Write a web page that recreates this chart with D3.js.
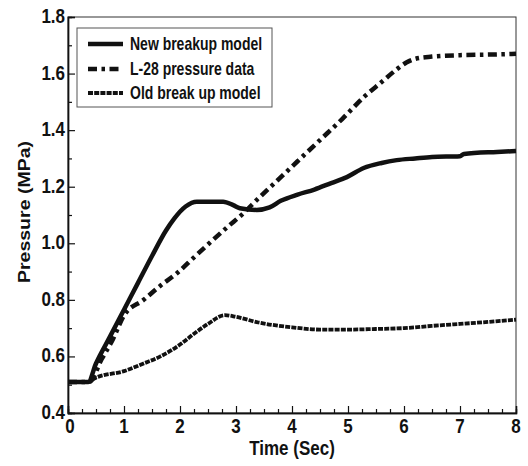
<!DOCTYPE html>
<html>
<head>
<meta charset="utf-8">
<script src="https://cdn.jsdelivr.net/npm/d3@7"></script>
<style>
  body { margin: 0; background: #fff; }
  text { font-family: "Liberation Sans", Arial, sans-serif; font-weight: bold; fill: #111; }
</style>
</head>
<body>
<div class="chart"></div>
<script>
// series data (time in sec, pressure in MPa)
var newTime = [0, 0.36, 0.5, 0.75, 1.0, 1.25, 1.5, 1.75, 1.9, 2.1, 2.3, 2.77, 2.95, 3.07, 3.37, 3.6, 3.8, 4.1, 4.4, 4.7, 4.98, 5.28, 5.6, 5.87, 6.2, 6.5, 7.0, 7.07, 7.66, 8];
var newPressure = [0.51, 0.51, 0.575, 0.67, 0.765, 0.86, 0.955, 1.045, 1.088, 1.13, 1.147, 1.147, 1.135, 1.124, 1.118, 1.127, 1.15, 1.172, 1.19, 1.213, 1.234, 1.266, 1.284, 1.294, 1.30, 1.305, 1.308, 1.316, 1.323, 1.326];

var l28Time = [0, 0.38, 0.6, 0.8, 1.0, 1.35, 1.65, 1.95, 2.25, 2.55, 2.85, 3.13, 3.4, 3.7, 4.1, 4.5, 4.9, 5.3, 5.6, 5.87, 6.05, 6.2, 6.5, 7.0, 7.5, 8];
var l28Pressure = [0.51, 0.51, 0.59, 0.66, 0.745, 0.80, 0.85, 0.895, 0.95, 1.005, 1.058, 1.106, 1.159, 1.215, 1.29, 1.365, 1.44, 1.52, 1.57, 1.615, 1.64, 1.652, 1.66, 1.665, 1.667, 1.67];

var oldTime = [0, 0.35, 0.5, 1.0, 1.35, 1.65, 2.0, 2.25, 2.5, 2.8, 3.0, 3.4, 4.0, 4.5, 5.0, 5.5, 6.0, 6.5, 7.0, 7.5, 8];
var oldPressure = [0.51, 0.51, 0.525, 0.548, 0.575, 0.60, 0.642, 0.68, 0.715, 0.746, 0.74, 0.72, 0.703, 0.695, 0.695, 0.697, 0.70, 0.708, 0.715, 0.722, 0.73];

var xTicks = [0, 1, 2, 3, 4, 5, 6, 7, 8];
var yTicks = [0.4, 0.6, 0.8, 1.0, 1.2, 1.4, 1.6, 1.8];
var legendNames = ["New breakup model", "L-28 pressure data", "Old break up model"];

var svgWidth = 528;
var svgHeight = 466;

var margin = { top: 17, right: 12, bottom: 53, left: 68 };
var width = svgWidth - margin.left - margin.right;
var height = svgHeight - margin.top - margin.bottom;

// figure looks stretched vertically, so text gets the same stretch
var stretch = 1.15;

var svg = d3.select(".chart")
  .append("svg")
  .attr("width", svgWidth)
  .attr("height", svgHeight);

var chartGroup = svg.append("g")
  .attr("transform", `translate(${margin.left}, ${margin.top})`);

var xScale = d3.scaleLinear().domain([0, 8]).range([0, width]);
var yScale = d3.scaleLinear().domain([0.4, 1.8]).range([height, 0]);

// frame
chartGroup.append("rect")
  .attr("x", 0).attr("y", 0)
  .attr("width", width).attr("height", height)
  .attr("fill", "none")
  .attr("stroke", "#333")
  .attr("stroke-width", 1);

// inward ticks, major + minor
var xMinor = d3.range(0, 8.001, 0.25).filter(d => Math.abs(d - Math.round(d)) > 0.01);
var yMinor = d3.range(0.5, 1.8, 0.2);

var bottomAxis = d3.axisBottom(xScale).tickValues(xTicks).tickSize(-7).tickFormat("");
var bottomMinor = d3.axisBottom(xScale).tickValues(xMinor).tickSize(-4).tickFormat("");
var leftAxis = d3.axisLeft(yScale).tickValues(yTicks).tickSize(-7).tickFormat("");
var leftMinor = d3.axisLeft(yScale).tickValues(yMinor).tickSize(-4).tickFormat("");

[[bottomAxis, true], [bottomMinor, true], [leftAxis, false], [leftMinor, false]].forEach(function(a) {
  var g = chartGroup.append("g").call(a[0]);
  if (a[1]) g.attr("transform", `translate(0, ${height})`);
  g.select(".domain").attr("stroke", "#111").attr("stroke-width", 1.4);
  g.selectAll(".tick line").attr("stroke", "#111").attr("stroke-width", 1.2);
});

// tick labels
chartGroup.selectAll(".xlab")
  .data(xTicks)
  .enter()
  .append("text")
  .attr("text-anchor", "middle")
  .attr("font-size", 17)
  .attr("transform", d => `translate(${xScale(d) + (d === 0 ? 2 : 0)}, ${height + 20}) scale(1, ${stretch})`)
  .text(d => d);

chartGroup.selectAll(".ylab")
  .data(yTicks)
  .enter()
  .append("text")
  .attr("text-anchor", "end")
  .attr("font-size", 17)
  .attr("transform", d => `translate(-3, ${yScale(d) + 6}) scale(1, ${stretch})`)
  .text(d => d.toFixed(1));

// lines
var line = d3.line()
  .curve(d3.curveMonotoneX)
  .x(d => xScale(d[0]))
  .y(d => yScale(d[1]));

var styles = [
  { w: 4.5, dash: null },
  { w: 4.5, dash: "9,4.5,3.5,4.5" },
  { w: 3.8, dash: "5,1.2" }
];

var series = [
  d3.zip(newTime, newPressure),
  d3.zip(l28Time, l28Pressure),
  d3.zip(oldTime, oldPressure)
];

series.forEach(function(s, i) {
  chartGroup.append("path")
    .datum(s)
    .attr("d", line)
    .attr("fill", "none")
    .attr("stroke", "#111")
    .attr("stroke-width", styles[i].w)
    .attr("stroke-dasharray", styles[i].dash)
    .attr("stroke-linejoin", "round");
});

// legend
var legend = svg.append("g");
legend.append("rect")
  .attr("x", 77).attr("y", 28)
  .attr("width", 195).attr("height", 79)
  .attr("fill", "#fff")
  .attr("stroke", "#555")
  .attr("stroke-width", 1);

var legendY = [44, 69, 93];
legendNames.forEach(function(name, i) {
  legend.append("line")
    .attr("x1", 88).attr("x2", 123)
    .attr("y1", legendY[i]).attr("y2", legendY[i])
    .attr("stroke", "#111")
    .attr("stroke-width", styles[i].w)
    .attr("stroke-dasharray", styles[i].dash);
  legend.append("text")
    .attr("font-size", 14)
    .attr("transform", `translate(130, ${legendY[i] + 6}) scale(1, 1.25)`)
    .text(name);
});

// axis titles
svg.append("text")
  .attr("text-anchor", "middle")
  .attr("font-size", 17)
  .attr("transform", `translate(292, 455) scale(1, ${stretch})`)
  .text("Time (Sec)");

svg.append("text")
  .attr("text-anchor", "middle")
  .attr("font-size", 17)
  .attr("transform", `translate(30, 212) rotate(-90) scale(${stretch}, 1)`)
  .text("Pressure (MPa)");
</script>
</body>
</html>
